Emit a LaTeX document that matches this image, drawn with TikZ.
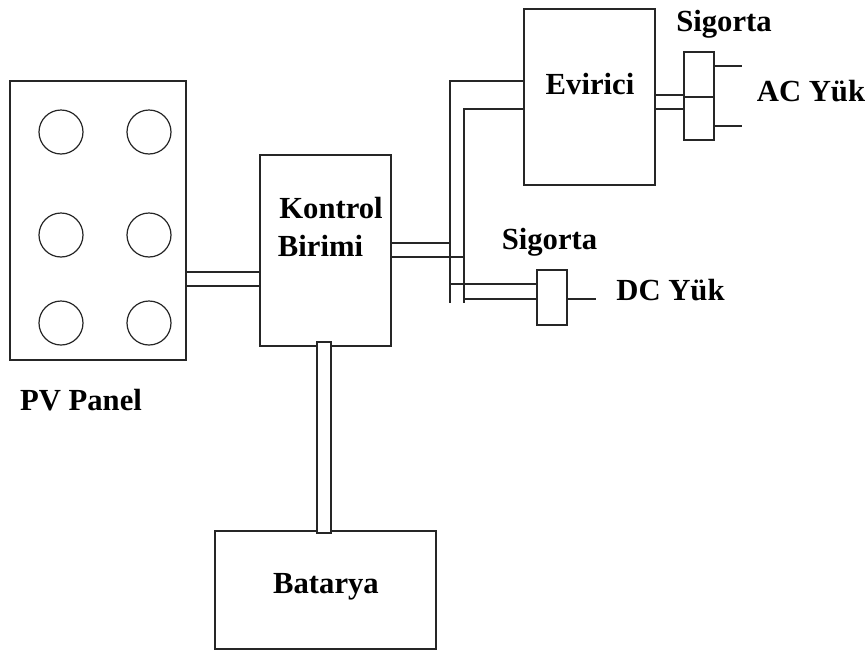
\documentclass[tikz,border=0pt]{standalone}
\usepackage{fontspec}
\setmainfont{Liberation Serif}
\definecolor{ink}{HTML}{262626}
\tikzset{
 box/.style={draw=ink,line width=1.1pt,fill=white,inner sep=0pt,outer sep=0pt,anchor=north west},
 cell/.style={draw=ink,line width=0.9pt,circle,inner sep=0pt,minimum size=33pt},
 wire/.style={draw=ink,line width=1.1pt},
 lab/.style={font=\bfseries\fontsize{23}{26}\selectfont,text=black,inner sep=0pt}
}
\newcommand{\bx}[6]{\node[box,minimum width=#4*0.75pt,minimum height=#5*0.75pt] (#1) at (#2,#3) {#6};}
\begin{document}
\begin{tikzpicture}[x=0.75pt,y=-0.75pt]
\useasboundingbox (0,0) rectangle (868,650);
\fill[white] (0,0) rectangle (868,650);
% boxes
\bx{pv}{10}{81}{176}{279}{}
\bx{kontrol}{260}{155}{131}{191}{}
\bx{bat}{215}{531}{221}{118}{}
\bx{evirici}{524}{9}{131}{176}{}
\bx{fuseac}{684}{52}{30}{88}{}
\bx{fusedc}{537}{270}{30}{55}{}
% PV cells
\foreach \n/\x/\y in {a/61/132,b/149/132,c/61/235,d/149/235,e/61/323,f/149/323}
  \node[cell] (cell\n) at (\x,\y) {};
% level coordinates
\coordinate (p1) at (0,272);
\coordinate (p2) at (0,286);
\coordinate (k1) at (450,243);
\coordinate (k2) at (464,257);
\coordinate (t1) at (450,81);
\coordinate (t2) at (464,109);
\coordinate (b1) at (450,303);
\coordinate (b2) at (464,303);
\coordinate (d1) at (450,284);
\coordinate (d2) at (464,299);
\coordinate (i1) at (0,95);
\coordinate (i2) at (0,109);
\coordinate (m) at (0,97);
\coordinate (acu) at (742,66);
\coordinate (acl) at (742,126);
\coordinate (dce) at (596,299);
% connectors
\draw[wire] (pv.east |- p1) -- (kontrol.west |- p1);
\draw[wire] (pv.east |- p2) -- (kontrol.west |- p2);
\draw[wire] (kontrol.east |- k1) -- (k1);
\draw[wire] (kontrol.east |- k2) -- (k2);
\draw[wire] (evirici.west |- t1) -- (t1) -- (b1);
\draw[wire] (evirici.west |- t2) -- (t2) -- (b2);
\draw[wire] (d1) -- (fusedc.west |- d1);
\draw[wire] (d2) -- (fusedc.west |- d2);
\draw[wire] (fusedc.east |- dce) -- (dce);
\draw[wire] (evirici.east |- i1) -- (fuseac.west |- i1);
\draw[wire] (evirici.east |- i2) -- (fuseac.west |- i2);
\draw[wire] (fuseac.west |- m) -- (fuseac.east |- m);
\draw[wire] (fuseac.east |- acu) -- (acu);
\draw[wire] (fuseac.east |- acl) -- (acl);
% battery tube
\bx{tube}{317}{342}{14}{191}{}
% labels
\node[lab] (lk) at (331,208) {Kontrol};
\node[lab] (lb) at (320.5,246) {Birimi};
\node[lab] (le) at (590,84) {Evirici};
\node[lab] (ls1) at (724,24) {Sigorta};
\node[lab] (ls2) at (549.5,242) {Sigorta};
\node[lab] (lac) at (811,91) {AC Yük};
\node[lab] (ldc) at (670.5,290) {DC Yük};
\node[lab] (lpv) at (81,400) {PV Panel};
\node[lab] (lbat) at (326,587) {Batarya};
\end{tikzpicture}
\end{document}
